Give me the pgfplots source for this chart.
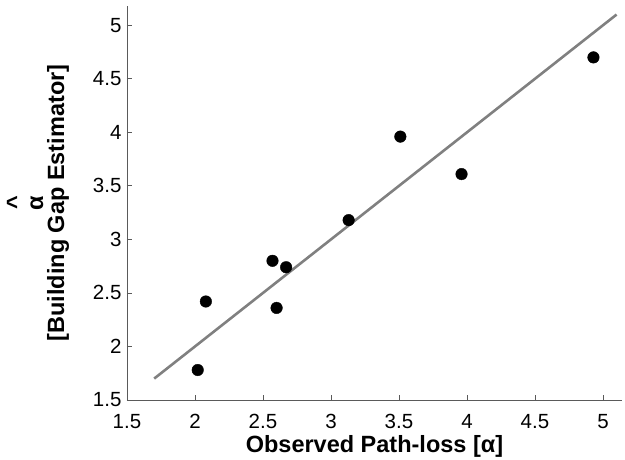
\documentclass[border=0pt]{standalone}
\usepackage{pgfplots}
\pgfplotsset{compat=1.18}
\usepackage{fontspec}
\setmainfont{Liberation Sans}
\definecolor{spine}{RGB}{90,90,90}
\definecolor{fitline}{RGB}{128,128,128}
\begin{document}
\begin{tikzpicture}
\begin{axis}[
  scale only axis, width=495pt, height=394pt,
  xmin=1.5, xmax=5.14, ymin=1.5, ymax=5.18,
  axis lines=left, axis line style={-, spine, line width=0.9pt},
  tick align=inside, major tick length=5pt,
  tick style={spine, line width=0.8pt},
  xtick={1.5,2,2.5,3,3.5,4,4.5,5},
  ytick={1.5,2,2.5,3,3.5,4,4.5,5},
  /pgf/number format/assume math mode=true,
  tick label style={font=\fontsize{20.5}{20}\selectfont},
  xticklabel style={yshift=-11pt},
  yticklabel style={xshift=-2pt},
  xlabel={\textbf{Observed Path-loss [α]}},
  ylabel={\textbf{\^{}}\\[-5pt]\textbf{α}\\[-4pt] \textbf{{[}Building Gap Estimator{]}}},
  ylabel style={align=center, font=\fontsize{23.5}{25}\selectfont},
  ylabel shift=17pt,
  xlabel style={font=\fontsize{23.5}{25}\selectfont},
  clip=false,
]
\addplot[fitline, line width=2.6pt] coordinates {(1.7,1.7) (5.1,5.1)};
\addplot[only marks, mark=*, mark size=5.8pt, black] coordinates {
(2.02,1.78) (2.08,2.42) (2.57,2.80) (2.67,2.74) (2.60,2.36)
(3.13,3.18) (3.51,3.96) (3.96,3.61) (4.93,4.70)};
\end{axis}
\pgfresetboundingbox
\path ([shift={(-127pt,-60pt)}]current axis.south west) rectangle ++(625pt,460pt);
\end{tikzpicture}
\end{document}
